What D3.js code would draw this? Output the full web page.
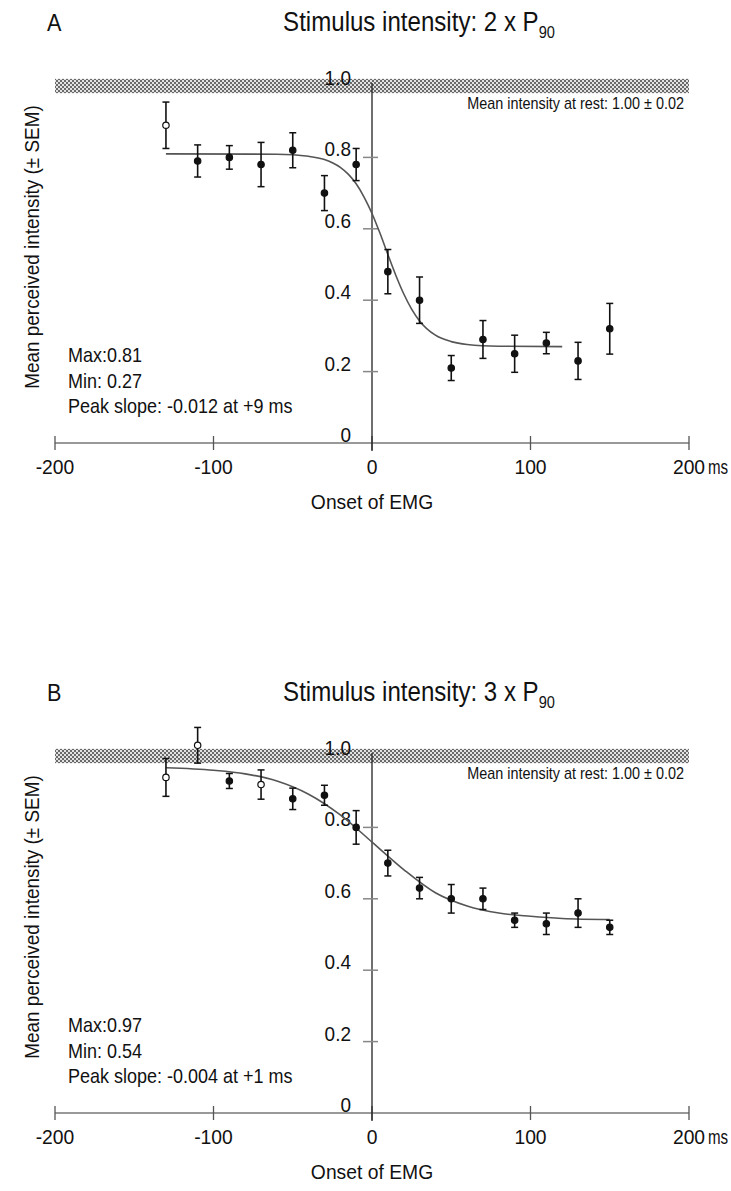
<!DOCTYPE html>
<html lang="en">
<head>
<meta charset="utf-8">
<title>Perceived intensity</title>
<script src="https://d3js.org/d3.v7.min.js"></script>
<style>
  body { margin: 0; background: #fff; }
  text { font-family: "Liberation Sans", Arial, sans-serif; fill: #111; }
</style>
</head>
<body>
<div id="chart"></div>
<script>
// time bins relative to EMG onset (ms)
const times = [-130, -110, -90, -70, -50, -30, -10, 10, 30, 50, 70, 90, 110, 130, 150];

// panel A: 2 x P90
const meanA = [0.89, 0.79, 0.80, 0.78, 0.82, 0.70, 0.78, 0.48, 0.40, 0.21, 0.29, 0.25, 0.28, 0.23, 0.32];
const semA  = [0.065, 0.045, 0.033, 0.062, 0.049, 0.049, 0.045, 0.062, 0.065, 0.035, 0.053, 0.052, 0.030, 0.052, 0.071];
const openA = [-130];
const fitTimesA = [-130, -60, -40, -30, -20, -15, -10, -5, 0, 5, 10, 15, 20, 25, 30, 40, 50, 60, 80, 120];
const fitA = [0.810, 0.809, 0.803, 0.794, 0.772, 0.753, 0.726, 0.689, 0.643, 0.588, 0.528, 0.470, 0.418, 0.375, 0.342, 0.302, 0.284, 0.276, 0.271, 0.270];
const statsA = ["Max:0.81", "Min: 0.27", "Peak slope: -0.012 at +9 ms"];

// panel B: 3 x P90
const meanB = [0.94, 1.03, 0.93, 0.92, 0.88, 0.89, 0.80, 0.70, 0.63, 0.60, 0.60, 0.54, 0.53, 0.56, 0.52];
const semB  = [0.053, 0.050, 0.021, 0.041, 0.030, 0.028, 0.047, 0.036, 0.030, 0.040, 0.030, 0.020, 0.030, 0.040, 0.020];
const openB = [-130, -110, -70];
const fitTimesB = [-130, -100, -80, -60, -40, -20, 0, 20, 40, 60, 80, 100, 120, 150];
const fitB = [0.967, 0.960, 0.950, 0.930, 0.893, 0.835, 0.759, 0.682, 0.617, 0.580, 0.560, 0.551, 0.545, 0.542];
const statsB = ["Max:0.97", "Min: 0.54", "Peak slope: -0.004 at +1 ms"];

const xTicks = [-200, -100, 0, 100, 200];
const yTicks = [0, 0.2, 0.4, 0.6, 0.8, 1.0];
const restMean = 1.00, restSem = 0.02;

const W = 731, H = 1191;
const svg = d3.select("#chart").append("svg")
    .attr("width", W).attr("height", H);

// checker pattern for the resting band
const pat = svg.append("defs").append("pattern")
    .attr("id", "checker").attr("patternUnits", "userSpaceOnUse")
    .attr("width", 4).attr("height", 4);
pat.append("rect").attr("width", 4).attr("height", 4).attr("fill", "#e2e2e2");
pat.append("rect").attr("width", 2).attr("height", 2).attr("fill", "#6a6a6a");
pat.append("rect").attr("x", 2).attr("y", 2).attr("width", 2).attr("height", 2).attr("fill", "#6a6a6a");

const x = d3.scaleLinear().domain([-200, 200]).range([55, 689]);

// narrow-looking text: scale glyphs horizontally
function label(g, px, py, size, sx, str, anchor) {
    return g.append("text")
        .attr("transform", `translate(${px},${py}) scale(${sx},1)`)
        .attr("text-anchor", anchor || "start")
        .attr("font-size", size).text(str);
}

function drawPanel(cfg) {
    const y = d3.scaleLinear().domain([0, 1]).range([cfg.y0, cfg.y0 - 357]);
    const g = svg.append("g");

    // panel letter and title
    label(g, 47, cfg.y0 - 412, 24, 0.9, cfg.letter);
    const title = label(g, 419, cfg.y0 - 412, 28, 0.86, "", "middle");
    title.append("tspan").text(cfg.title);
    title.append("tspan").attr("font-size", 17).attr("dy", 7).text("90");

    // resting band
    g.append("rect")
        .attr("x", x(-200)).attr("width", x(200) - x(-200))
        .attr("y", y(restMean + restSem)).attr("height", y(restMean - restSem) - y(restMean + restSem))
        .attr("fill", "url(#checker)");
    label(g, 684, y(restMean) + 23, 16, 0.9, "Mean intensity at rest: 1.00 \u00b1 0.02", "end");

    // x axis
    g.append("line").attr("x1", x(-200)).attr("x2", x(200))
        .attr("y1", y(0)).attr("y2", y(0)).attr("stroke", "#777").attr("stroke-width", 1.5);
    g.selectAll(".xt").data(xTicks).join("line")
        .attr("x1", d => x(d)).attr("x2", d => x(d))
        .attr("y1", y(0) - 7).attr("y2", y(0) + 7)
        .attr("stroke", "#555").attr("stroke-width", 1.3);
    g.selectAll(".xl").data(xTicks).join("text")
        .attr("transform", d => `translate(${x(d)},${y(0) + 31}) scale(0.92,1)`)
        .attr("text-anchor", "middle").attr("font-size", 21)
        .text(d => d);
    label(g, x(200) + 19, y(0) + 31, 21, 0.72, "ms");
    label(g, x(0), y(0) + 66, 21, 0.92, "Onset of EMG", "middle");

    // y axis at time zero
    g.append("line").attr("x1", x(0)).attr("x2", x(0))
        .attr("y1", y(1) - 3).attr("y2", y(0) + 8)
        .attr("stroke", "#222").attr("stroke-width", 1.3);
    g.selectAll(".yt").data(yTicks.slice(1, 5)).join("line")
        .attr("x1", x(0) - 9).attr("x2", x(0) + 6)
        .attr("y1", d => y(d)).attr("y2", d => y(d))
        .attr("stroke", "#888").attr("stroke-width", 1.5);
    g.selectAll(".yl").data(yTicks).join("text")
        .attr("transform", d => `translate(${x(0) - 21},${y(d) - 1}) scale(0.95,1)`)
        .attr("text-anchor", "end").attr("font-size", 20)
        .text(d => d === 0 ? "0" : d.toFixed(1));
    g.append("text")
        .attr("transform", `translate(39,${cfg.y0 - 196}) rotate(-90) scale(0.9,1)`)
        .attr("text-anchor", "middle").attr("font-size", 21)
        .text("Mean perceived intensity (\u00b1 SEM)");

    // fitted curve
    const fit = cfg.fitT.map((t, i) => ({ t: t, v: cfg.fit[i] }));
    g.append("path").datum(fit)
        .attr("fill", "none").attr("stroke", "#555").attr("stroke-width", 1.6)
        .attr("d", d3.line().x(d => x(d.t)).y(d => y(d.v)).curve(d3.curveMonotoneX));

    // data points with SEM bars
    const pts = times.map((t, i) => ({ t: t, v: cfg.mean[i], e: cfg.sem[i], open: cfg.open.includes(t) }));
    const p = g.selectAll(".pt").data(pts).join("g");
    p.append("line")
        .attr("x1", d => x(d.t)).attr("x2", d => x(d.t))
        .attr("y1", d => y(d.v + d.e)).attr("y2", d => y(d.v - d.e))
        .attr("stroke", "#111").attr("stroke-width", 1.6);
    p.append("line")
        .attr("x1", d => x(d.t) - 3.5).attr("x2", d => x(d.t) + 3.5)
        .attr("y1", d => y(d.v + d.e)).attr("y2", d => y(d.v + d.e))
        .attr("stroke", "#111").attr("stroke-width", 1.5);
    p.append("line")
        .attr("x1", d => x(d.t) - 3.5).attr("x2", d => x(d.t) + 3.5)
        .attr("y1", d => y(d.v - d.e)).attr("y2", d => y(d.v - d.e))
        .attr("stroke", "#111").attr("stroke-width", 1.5);
    p.append("circle")
        .attr("cx", d => x(d.t)).attr("cy", d => y(d.v)).attr("r", 3.2)
        .attr("fill", d => d.open ? "#fff" : "#111")
        .attr("stroke", "#111").attr("stroke-width", 1.2);

    // fit parameters
    cfg.stats.forEach((s, i) => label(g, 68, cfg.y0 - 81 + i * 25.5, 20, 0.9, s));
}

drawPanel({ letter: "A", title: "Stimulus intensity: 2 x P", y0: 443,
    mean: meanA, sem: semA, open: openA, fitT: fitTimesA, fit: fitA, stats: statsA });
drawPanel({ letter: "B", title: "Stimulus intensity: 3 x P", y0: 1113,
    mean: meanB, sem: semB, open: openB, fitT: fitTimesB, fit: fitB, stats: statsB });
</script>
</body>
</html>
